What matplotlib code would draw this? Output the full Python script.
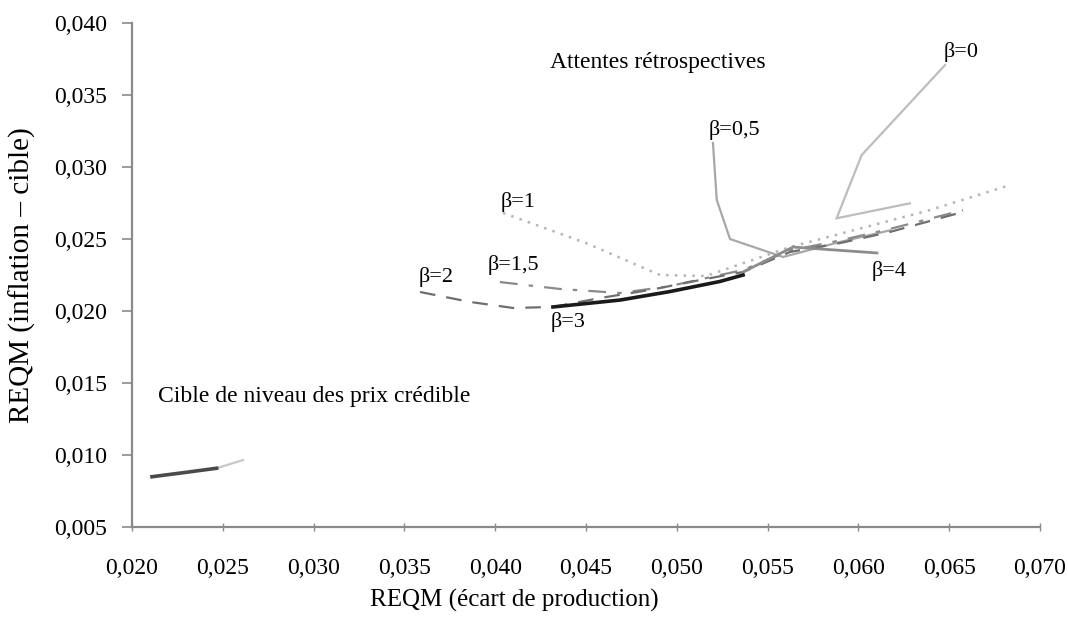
import matplotlib
matplotlib.use("Agg")
import matplotlib.pyplot as plt
from matplotlib.ticker import FuncFormatter

# RMSE frontiers (output gap, inflation - target) for each beta
b0_x = [0.06477, 0.06018, 0.05880, 0.06284]
b0_y = [0.03708, 0.03083, 0.02644, 0.02748]

b05_x = [0.05199, 0.05220, 0.05293, 0.05585, 0.05900, 0.06174]
b05_y = [0.03167, 0.02771, 0.02500, 0.02375, 0.02480, 0.02560]

b1_x = [0.04043, 0.04504, 0.04907, 0.05161, 0.05623, 0.06394, 0.06818]
b1_y = [0.02681, 0.02470, 0.02250, 0.02243, 0.02444, 0.02701, 0.02868]

b15_x = [0.04026, 0.04357, 0.04687, 0.04950, 0.05365, 0.05623, 0.05899, 0.06174, 0.06576]
b15_y = [0.02201, 0.02153, 0.02125, 0.02170, 0.02285, 0.02420, 0.02490, 0.02570, 0.02700]

b2_x = [0.03586, 0.03861, 0.04098, 0.04318, 0.04577, 0.04852, 0.05128, 0.05365, 0.05623, 0.05899, 0.06174, 0.06576]
b2_y = [0.02132, 0.02063, 0.02021, 0.02028, 0.02090, 0.02146, 0.02215, 0.02271, 0.02410, 0.02472, 0.02549, 0.02688]

b3_x = [0.04318, 0.04687, 0.04962, 0.05237, 0.05365]
b3_y = [0.02028, 0.02076, 0.02135, 0.02205, 0.02250]

b4_x = [0.05365, 0.05640, 0.06102]
b4_y = [0.02271, 0.02444, 0.02403]

# Credible price-level target
plt_x_dark = [0.0211, 0.0230, 0.02466]
plt_y_dark = [0.00849, 0.00880, 0.00908]
plt_x_light = [0.02466, 0.02611]
plt_y_light = [0.00908, 0.00965]

beta_labels = ["β=0", "β=0,5", "β=1", "β=1,5", "β=2", "β=3", "β=4"]
beta_label_x = [0.06565, 0.05320, 0.04126, 0.04098, 0.03674, 0.04401, 0.06169]
beta_label_y = [0.03799, 0.03257, 0.02757, 0.02319, 0.02236, 0.01924, 0.02278]

x_ticks = [0.020, 0.025, 0.030, 0.035, 0.040, 0.045, 0.050, 0.055, 0.060, 0.065, 0.070]
y_ticks = [0.005, 0.010, 0.015, 0.020, 0.025, 0.030, 0.035, 0.040]

plt.rcParams['font.family'] = ['Liberation Serif', 'DejaVu Serif']
FS = 17

fig = plt.figure(figsize=(10.68, 6.20), dpi=100)
ax = fig.add_axes([0.1236, 0.15, 0.8502, 0.8129])

ax.plot(b0_x, b0_y, color="#bdbdbd", lw=1.6, solid_joinstyle="miter")
ax.plot(b05_x, b05_y, color="#a8a8a8", lw=1.6)
ax.plot(b1_x, b1_y, color="#b5b5b5", lw=1.8, ls=(0, (1, 2.5)))
ax.plot(b15_x, b15_y, color="#8a8a8a", lw=1.6, ls=(0, (8, 5, 2, 5)))
ax.plot(b2_x, b2_y, color="#6e6e6e", lw=1.6, ls=(0, (7, 5)))
ax.plot(b4_x, b4_y, color="#8c8c8c", lw=2.0)
ax.plot(b3_x, b3_y, color="#1a1a1a", lw=2.6)

ax.plot(plt_x_light, plt_y_light, color="#c8c8c8", lw=1.6)
ax.plot(plt_x_dark, plt_y_dark, color="#4a4a4a", lw=2.6)

for lab, lx, ly in zip(beta_labels, beta_label_x, beta_label_y):
    ax.text(lx, ly, lab, fontsize=FS - 1, ha="center", va="center")

ax.text(0.04302, 0.03729, "Attentes rétrospectives", fontsize=FS, ha="left", va="center")
ax.text(0.02143, 0.01403, "Cible de niveau des prix crédible", fontsize=FS, ha="left", va="center")

ax.set_xlim(0.020, 0.070)
ax.set_ylim(0.005, 0.040)
ax.set_xticks(x_ticks)
ax.set_yticks(y_ticks)
fmt = FuncFormatter(lambda v, p: f"{v:.3f}".replace(".", ","))
ax.xaxis.set_major_formatter(fmt)
ax.yaxis.set_major_formatter(fmt)

for s in ["top", "right"]:
    ax.spines[s].set_visible(False)
for s in ["left", "bottom"]:
    ax.spines[s].set_color("#8a8a8a")
    ax.spines[s].set_linewidth(1.6)

ax.tick_params(axis="y", direction="out", length=7, width=1.2, color="#8a8a8a",
               labelsize=FS, pad=11)
ax.tick_params(axis="x", direction="inout", length=6, width=1.0, color="#8a8a8a",
               labelsize=FS, pad=19)

fig.text(514 / 1068, 1 - 600 / 620, "REQM (écart de production)", fontsize=18,
         ha="center", va="center")
fig.text(22 / 1068, 1 - 275 / 620, "REQM (inflation – cible)", fontsize=21,
         ha="center", va="center", rotation=90)

fig.savefig("out.png", dpi=100, facecolor="white")
